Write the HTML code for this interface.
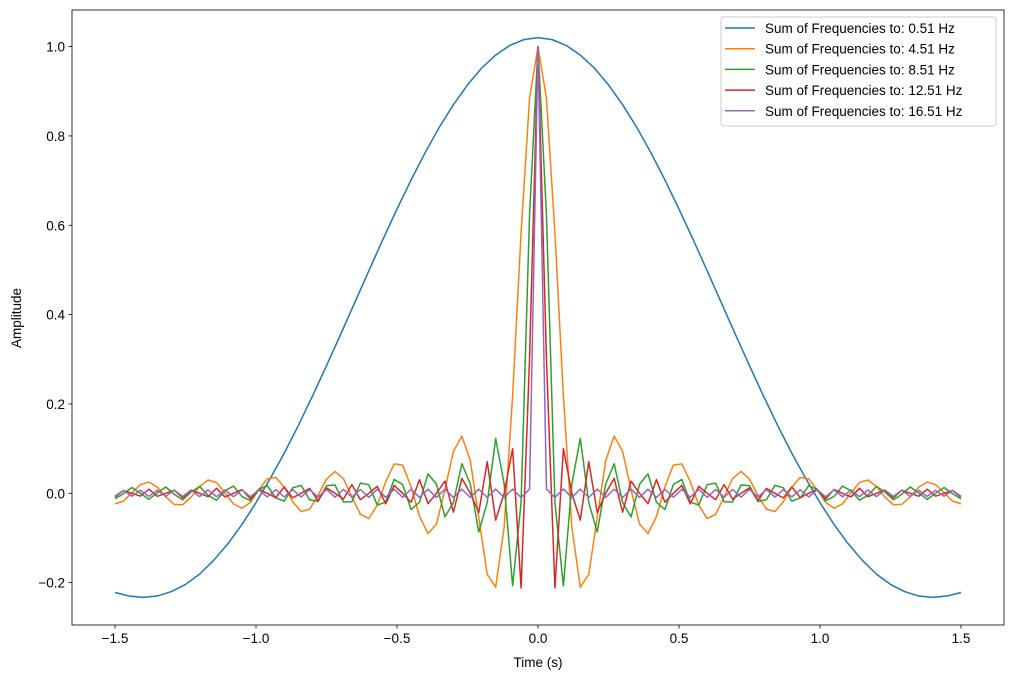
<!DOCTYPE html>
<html><head><meta charset="utf-8"><style>
body{margin:0;background:#fff}
svg{display:block;font-family:"Liberation Sans","DejaVu Sans",sans-serif}
</style></head><body>
<svg id="chart" width="1013" height="679">
<g id="plot"></g>
</svg>
<script>
const series1Label = "Sum of Frequencies to: 0.51 Hz";
const seriesLabels = ["Sum of Frequencies to: 0.51 Hz","Sum of Frequencies to: 4.51 Hz","Sum of Frequencies to: 8.51 Hz","Sum of Frequencies to: 12.51 Hz","Sum of Frequencies to: 16.51 Hz"];
const seriesColors = ["#1f77b4","#ff7f0e","#2ca02c","#d62728","#9467bd"];
const xTicks = [-1.5,-1.0,-0.5,0.0,0.5,1.0,1.5];
const yTicks = [-0.2,0.0,0.2,0.4,0.6,0.8,1.0];
const blueStart = -1.5, blueStep = 0.05;
const sampleStart = -1.5, sampleStep = 0.03;
const blueValues = [-.222,-.230,-.233,-.230,-.220,-.204,-.181,-.150,-.113,-.070,-.021,.0326,.0897,.1517,.2173,.2858,.3557,.4267,.4979,.5682,.6363,.7016,.7628,.8195,.870,.9143,.9518,.981,1.0027,1.0156,1.02,1.0156,1.0027,.981,.9518,.9143,.870,.8195,.7628,.7016,.6363,.5682,.4979,.4267,.3557,.2858,.2173,.1517,.0897,.0326,-.021,-.070,-.113,-.150,-.181,-.204,-.220,-.230,-.233,-.230,-.222];
const orangeValues = [-.0234,-.0175,.0009,.0194,.0252,.0138,-.0078,-.0249,-.0255,-.0084,.0154,.0297,.024,.0012,-.0237,-.0335,-.0204,.0078,.0323,.0356,.0142,-.0187,-.0408,-.0357,-.005,.0317,.049,.033,-.0079,-.047,-.0566,-.0266,.0259,.0658,.0632,.0144,-.0518,-.0903,-.0687,.0079,.0938,.128,.0728,-.0546,-.1815,-.2102,-.0754,.2185,.583,.884,1.0,.884,.583,.2185,-.0754,-.2102,-.1815,-.0546,.0728,.128,.0938,.0079,-.0687,-.0903,-.0518,.0144,.0632,.0658,.0259,-.0266,-.0566,-.047,-.0079,.033,.049,.0317,-.005,-.0357,-.0408,-.0187,.0142,.0356,.0323,.0078,-.0204,-.0335,-.0237,.0012,.024,.0297,.0154,-.0084,-.0255,-.0249,-.0078,.0138,.0252,.0194,.0009,-.0175,-.0234];
const greenValues = [-.0124,-.0008,.013,0,-.0135,.001,.0141,-.002,-.0146,.0031,.0151,-.0043,-.0156,.0056,.0162,-.007,-.0166,.0086,.0171,-.0103,-.0175,.0123,.0179,-.0144,-.0183,.0168,.0186,-.0195,-.019,.0227,.0193,-.0264,-.0196,.031,.0198,-.0365,-.020,.0435,.0202,-.0529,-.0204,.0662,.0205,-.0866,-.0207,.123,.0207,-.207,-.0208,.623,1.0,.623,-.0208,-.207,.0207,.123,-.0207,-.0866,.0205,.0662,-.0204,-.0529,.0202,.0435,-.020,-.0365,.0198,.031,-.0196,-.0264,.0193,.0227,-.019,-.0195,.0186,.0168,-.0183,-.0144,.0179,.0123,-.0175,-.0103,.0171,.0086,-.0166,-.007,.0162,.0056,-.0156,-.0043,.0151,.0031,-.0146,-.002,.0141,.001,-.0135,0,.013,-.0008,-.0124];
const redValues = [-.0085,.0061,0,-.0064,.0092,-.0067,0,.007,-.0101,.0073,0,-.0077,.0112,-.0081,0,.0086,-.0125,.0091,0,-.0097,.0141,-.0103,0,.0111,-.0163,.012,0,-.013,.0193,-.0143,0,.0158,-.0236,.0176,0,-.020,.0303,-.0231,0,.0273,-.0424,.0333,0,-.0428,.0707,-.060,0,.100,-.212,.300,1.0,.300,-.212,.100,0,-.060,.0707,-.0428,0,.0333,-.0424,.0273,0,-.0231,.0303,-.020,0,.0176,-.0236,.0158,0,-.0143,.0193,-.013,0,.012,-.0163,.0111,0,-.0103,.0141,-.0097,0,.0091,-.0125,.0086,0,-.0081,.0112,-.0077,0,.0073,-.0101,.007,0,-.0067,.0092,-.0064,0,.0061,-.0085];
const purpleValues = [-.0064,.0065,-.0066,.0067,-.0068,.0069,-.007,.0071,-.0072,.0073,-.0074,.0074,-.0075,.0076,-.0077,.0078,-.0079,.008,-.0081,.0081,-.0082,.0083,-.0084,.0084,-.0085,.0086,-.0086,.0087,-.0088,.0088,-.0089,.0089,-.009,.009,-.0091,.0091,-.0092,.0092,-.0092,.0093,-.0093,.0094,-.0094,.0094,-.0094,.0095,-.0095,.0095,-.0095,.0095,1.0,.0095,-.0095,.0095,-.0095,.0094,-.0094,.0094,-.0094,.0093,-.0093,.0093,-.0092,.0092,-.0092,.0091,-.0091,.009,-.009,.0089,-.0089,.0088,-.0088,.0087,-.0086,.0086,-.0085,.0084,-.0084,.0083,-.0082,.0081,-.0081,.008,-.0079,.0078,-.0077,.0076,-.0075,.0074,-.0074,.0073,-.0072,.0071,-.007,.0069,-.0068,.0067,-.0066,.0065,-.0064];

const NS = "http://www.w3.org/2000/svg";
const svg = document.getElementById("chart");
const plot = document.getElementById("plot");
const L = 72, R = 1004, T = 10, B = 625;
function xScale(v){ return 538 + v * 282; }
function yScale(v){ return 493.3 - v * 446.7; }
function mk(tag, attrs, parent){ const e = document.createElementNS(NS, tag); for (const k in attrs) e.setAttribute(k, attrs[k]); (parent||svg).appendChild(e); return e; }
function fmt(v){ return (v < 0 ? "\u2212" : "") + Math.abs(v).toFixed(1); }

// series
const allSeries = [
  {vals: blueValues, start: blueStart, step: blueStep},
  {vals: orangeValues, start: sampleStart, step: sampleStep},
  {vals: greenValues, start: sampleStart, step: sampleStep},
  {vals: redValues, start: sampleStart, step: sampleStep},
  {vals: purpleValues, start: sampleStart, step: sampleStep}
];
allSeries.forEach((s, i) => {
  const pts = s.vals.map((v, k) => xScale(s.start + k * s.step).toFixed(2) + "," + yScale(v).toFixed(2)).join(" ");
  const pl = mk("polyline", {points: pts, fill: "none", stroke: seriesColors[i], "stroke-width": 1.5, "stroke-linejoin": "round"}, plot);
  
  
});

// frame
const frame = mk("rect", {x: L, y: T, width: R - L, height: B - T, fill: "none", stroke: "#000", "stroke-width": 0.8});



// x ticks
xTicks.forEach(v => {
  const x = xScale(v);
  const t = mk("line", {x1: x, x2: x, y1: B, y2: B + 3.5, stroke: "#000", "stroke-width": 0.8});
  
  
  const lb = mk("text", {x: x, y: B + 18, "text-anchor": "middle", "font-size": "13.5px", fill: "#000"});
  lb.textContent = fmt(v);
  
  
});
// y ticks
yTicks.forEach(v => {
  const y = yScale(v);
  const t = mk("line", {x1: L - 3.5, x2: L, y1: y, y2: y, stroke: "#000", "stroke-width": 0.8});
  
  
  const lb = mk("text", {x: L - 7, y: y + 5, "text-anchor": "end", "font-size": "13.5px", fill: "#000"});
  lb.textContent = fmt(v);
  
  
});
// axis titles
const xt = mk("text", {x: 538, y: 667, "text-anchor": "middle", "font-size": "13.5px"});
xt.textContent = "Time (s)";


const yt = mk("text", {x: 0, y: 0, "text-anchor": "middle", "font-size": "13.5px", transform: "translate(21,318) rotate(-90)"});
yt.textContent = "Amplitude";



// legend
const lg = mk("g", {});


const lbox = mk("rect", {x: 721, y: 17, width: 275, height: 109, rx: 3, fill: "#fff", "fill-opacity": 0.8, stroke: "#ccc", "stroke-width": 1}, lg);


seriesLabels.forEach((name, i) => {
  const y = 28 + i * 20.7;
  const ln = mk("line", {x1: 725, x2: 755, y1: y, y2: y, stroke: seriesColors[i], "stroke-width": 1.5}, lg);
  
  
  const tx = mk("text", {x: 765, y: y + 5, "font-size": "13.5px"}, lg);
  tx.textContent = name;
  
  
});
</script>
</body></html>
